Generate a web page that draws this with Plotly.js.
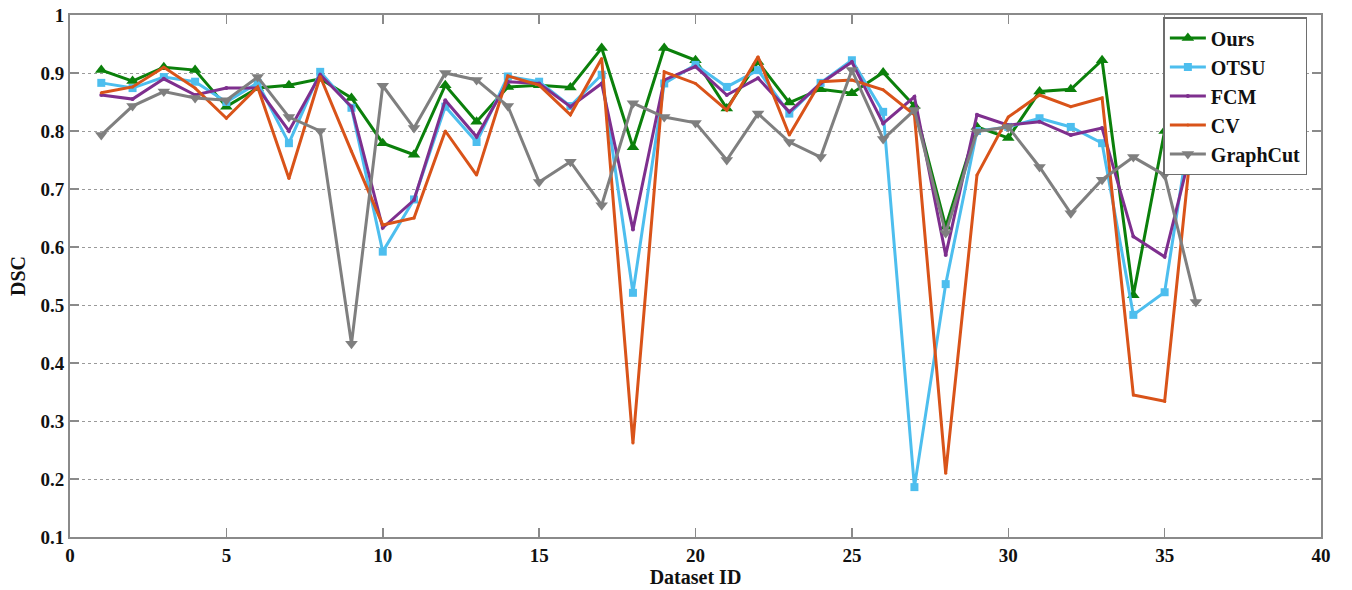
<!DOCTYPE html>
<html>
<head>
<meta charset="utf-8">
<script src="https://cdn.plot.ly/plotly-3.0.1.min.js"></script>
<style>
  html, body { margin: 0; padding: 0; background: #ffffff; }
  #chart { width: 1352px; height: 590px; }
</style>
</head>
<body>
<div id="chart"></div>
<script>
// Dataset IDs 1..36
const datasetIds = [1,2,3,4,5,6,7,8,9,10,11,12,13,14,15,16,17,18,19,20,21,22,23,24,25,26,27,28,29,30,31,32,33,34,35,36];

// DSC per method
const dscOurs     = [0.905,0.886,0.910,0.905,0.842,0.874,0.879,0.890,0.857,0.779,0.759,0.879,0.816,0.876,0.879,0.875,0.943,0.772,0.943,0.922,0.839,0.919,0.849,0.872,0.865,0.901,0.843,0.635,0.807,0.788,0.868,0.872,0.922,0.517,0.800,0.880];
const dscOtsu     = [0.883,0.874,0.893,0.885,0.850,0.883,0.779,0.902,0.840,0.592,0.682,0.842,0.781,0.894,0.885,0.843,0.897,0.521,0.882,0.914,0.876,0.905,0.830,0.883,0.922,0.833,0.186,0.536,0.800,0.807,0.822,0.807,0.779,0.483,0.522,0.869];
const dscFcm      = [0.862,0.855,0.890,0.862,0.874,0.874,0.800,0.897,0.842,0.633,0.681,0.853,0.790,0.885,0.882,0.842,0.882,0.630,0.888,0.911,0.862,0.891,0.833,0.882,0.919,0.813,0.859,0.586,0.828,0.810,0.816,0.793,0.805,0.618,0.583,0.800];
const dscCv       = [0.866,0.876,0.910,0.874,0.822,0.876,0.718,0.894,0.765,0.638,0.650,0.800,0.724,0.895,0.879,0.828,0.925,0.262,0.902,0.882,0.836,0.928,0.793,0.885,0.888,0.871,0.828,0.210,0.724,0.824,0.862,0.842,0.857,0.345,0.334,0.853];
const dscGraphCut = [0.793,0.843,0.868,0.857,0.853,0.893,0.824,0.800,0.433,0.878,0.805,0.900,0.888,0.843,0.712,0.747,0.672,0.848,0.824,0.814,0.750,0.830,0.781,0.755,0.905,0.786,0.836,0.624,0.799,0.807,0.738,0.658,0.716,0.755,0.724,0.505];

const xTicks = [0,5,10,15,20,25,30,35,40];
const yTicks = [0.1,0.2,0.3,0.4,0.5,0.6,0.7,0.8,0.9,1];

const serif = 'Liberation Serif, Times New Roman, serif';
const axisGray = '#8a8a8a';

function series(name, y, color, symbol, size) {
  return {
    x: datasetIds, y: y, name: name, type: 'scatter', mode: 'lines+markers',
    line: { color: color, width: 3 },
    marker: { color: color, symbol: symbol, size: size }
  };
}

const traces = [
  series('Ours', dscOurs, '#0b800b', 'triangle-up', 11),
  series('OTSU', dscOtsu, '#4dbeee', 'square', 8),
  series('FCM', dscFcm, '#7e2f8e', 'circle', 4),
  series('CV', dscCv, '#d95319', 'circle', 3),
  series('GraphCut', dscGraphCut, '#7f7f7f', 'triangle-down', 11)
];

const layout = {
  width: 1352, height: 590,
  margin: { l: 70, r: 31, t: 15, b: 53 },
  paper_bgcolor: '#ffffff', plot_bgcolor: '#ffffff',
  font: { family: serif, color: '#111111' },
  showlegend: true,
  legend: {
    x: 0.874, y: 0.996, xanchor: 'left', yanchor: 'top',
    bgcolor: '#ffffff', bordercolor: '#6e6e6e', borderwidth: 1.5,
    font: { family: serif, size: 20, color: '#111111', weight: 'bold' },
    itemwidth: 36,
    tracegroupgap: 0
  },
  xaxis: {
    range: [0, 40], tickvals: xTicks, ticktext: xTicks.map(String),
    showgrid: false, zeroline: false,
    showline: true, linecolor: axisGray, linewidth: 2, mirror: 'ticks',
    ticks: 'inside', ticklen: 9, tickcolor: axisGray, tickwidth: 1.5,
    tickfont: { family: serif, size: 19, weight: 'bold', color: '#111111' },
    title: { text: 'Dataset ID', font: { family: serif, size: 20, weight: 'bold', color: '#111111' }, standoff: 3 }
  },
  yaxis: {
    range: [0.1, 1], tickvals: yTicks, ticktext: yTicks.map(String),
    showgrid: true, gridcolor: '#9a9a9a', gridwidth: 1, griddash: 'dot',
    zeroline: false,
    showline: true, linecolor: axisGray, linewidth: 2, mirror: 'ticks',
    ticks: 'inside', ticklen: 9, tickcolor: axisGray, tickwidth: 1.5,
    tickfont: { family: serif, size: 19, weight: 'bold', color: '#111111' },
    title: { text: 'DSC', font: { family: serif, size: 20, weight: 'bold', color: '#111111' }, standoff: 9 }
  }
};

Plotly.newPlot('chart', traces, layout, { displayModeBar: false, staticPlot: true });
</script>
</body>
</html>
